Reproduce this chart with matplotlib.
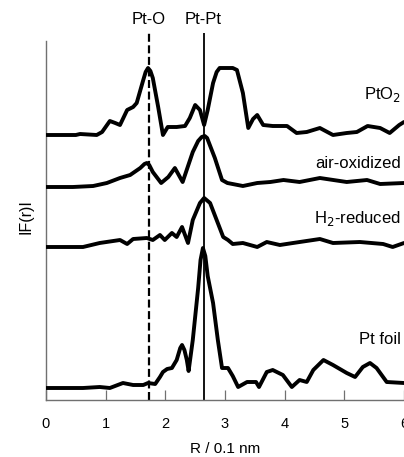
import matplotlib
matplotlib.use("Agg")
import matplotlib.pyplot as plt

plt.rcParams['font.family'] = ['Liberation Sans', 'DejaVu Sans']

# R values (0.1 nm) and |F(r)| heights (arbitrary units) for each spectrum
pto2_r = [0.0, 0.5, 0.57, 0.85, 0.94, 1.07, 1.16, 1.24, 1.36, 1.46, 1.52, 1.63, 1.67, 1.71,
          1.75, 1.79, 1.88, 1.96, 2.04, 2.19, 2.33, 2.41, 2.50, 2.58, 2.65, 2.71, 2.80, 2.86,
          2.91, 3.03, 3.13, 3.20, 3.30, 3.39, 3.47, 3.54, 3.64, 3.80, 4.04, 4.20, 4.37, 4.59,
          4.81, 5.04, 5.21, 5.39, 5.60, 5.76, 5.92, 6.0]
pto2_f = [0, 0, 1, 0, 3, 14, 12, 10, 25, 28, 32, 55, 63, 67,
          64, 57, 28, 0, 8, 8, 9, 17, 30, 25, 10, 25, 52, 63,
          67, 67, 67, 65, 42, 7, 16, 20, 10, 9, 9, 2, 3, 7,
          0, 2, 3, 9, 7, 2, 10, 13]

air_r = [0.0, 0.45, 0.79, 1.02, 1.24, 1.41, 1.58, 1.65, 1.69, 1.73, 1.79, 1.93, 2.05, 2.16,
         2.29, 2.46, 2.55, 2.61, 2.66, 2.70, 2.83, 2.95, 3.04, 3.30, 3.54, 3.76, 3.98, 4.25,
         4.59, 5.04, 5.38, 5.60, 6.0]
air_f = [0, 0, 1, 4, 9, 12, 19, 23, 24, 22, 15, 4, 10, 19,
         5, 35, 46, 50, 51, 49, 29, 7, 4, 1, 4, 5, 7, 5,
         9, 5, 7, 3, 4]

h2_r = [0.0, 0.62, 0.90, 1.24, 1.36, 1.46, 1.69, 1.79, 1.91, 1.99, 2.11, 2.19, 2.28, 2.38,
        2.46, 2.58, 2.65, 2.75, 2.86, 2.97, 3.05, 3.13, 3.30, 3.54, 3.70, 3.92, 4.14, 4.59,
        4.81, 5.26, 5.65, 5.81, 6.0]
h2_f = [0, 0, 4, 7, 3, 8, 9, 7, 12, 7, 14, 10, 20, 4,
        27, 44, 49, 44, 27, 10, 7, 3, 4, 0, 5, 2, 4, 8,
        4, 5, 3, 0, 4]

foil_r = [0.0, 0.62, 0.90, 1.07, 1.29, 1.46, 1.63, 1.71, 1.83, 1.91, 1.96, 2.03, 2.11, 2.19,
          2.25, 2.28, 2.32, 2.36, 2.39, 2.46, 2.55, 2.59, 2.63, 2.67, 2.71, 2.80, 2.88, 2.95,
          3.05, 3.13, 3.22, 3.37, 3.52, 3.57, 3.70, 3.80, 3.97, 4.12, 4.25, 4.37, 4.48, 4.65,
          4.81, 5.04, 5.18, 5.31, 5.43, 5.54, 5.71, 6.0]
foil_f = [0, 0, 1, 0, 5, 3, 3, 5, 4, 11, 16, 19, 20, 28,
          40, 43, 38, 28, 17, 48, 100, 128, 140, 132, 112, 85, 48, 20,
          20, 12, 1, 6, 6, 1, 16, 18, 13, 1, 8, 6, 18, 28,
          23, 15, 11, 21, 25, 20, 6, 5]

series_labels = ["PtO$_2$", "air-oxidized", "H$_2$-reduced", "Pt foil"]
series_offsets = [265, 213, 153, 12]
label_y = [305, 236, 182, 61]

ref_r = [1.72, 2.64]
ref_labels = ["Pt-O", "Pt-Pt"]
x_ticks = [0, 1, 2, 3, 4, 5, 6]

fig = plt.figure(figsize=(4.04, 4.57), dpi=100)
ax = fig.add_axes([46/404, 57/457, 358/404, 367/457])

series = [(pto2_r, pto2_f), (air_r, air_f), (h2_r, h2_f), (foil_r, foil_f)]
for (r, f), off in zip(series, series_offsets):
    ax.plot(r, [v + off for v in f], color='black', lw=2.8,
            solid_joinstyle='round', solid_capstyle='round', zorder=3)

ax.axvline(ref_r[0], color='black', lw=1.6, dashes=(3.6, 1.6), zorder=2)
ax.axvline(ref_r[1], color='black', lw=1.3, zorder=2)
for xr, lab in zip(ref_r, ref_labels):
    ax.text(xr, 380, lab, ha='center', va='center', fontsize=12, clip_on=False)

for lab, ly in zip(series_labels, label_y):
    ax.text(5.95, ly, lab, ha='right', va='center', fontsize=12)

ax.set_xlim(0, 6)
ax.set_ylim(0, 367)
ax.set_xticks(x_ticks)
ax.set_xticklabels([str(t) for t in x_ticks], fontsize=10.5)
ax.set_yticks([])
ax.spines['top'].set_visible(False)
ax.spines['right'].set_visible(False)
ax.spines['left'].set_bounds(0, 359)
for s in ('left', 'bottom'):
    ax.spines[s].set_color('#707070')
    ax.spines[s].set_linewidth(1.0)
ax.tick_params(axis='x', direction='in', length=7, width=0.9, color='#707070', pad=12)
ax.set_xlabel("R / 0.1 nm", fontsize=11, labelpad=8)
ax.set_ylabel("IF(r)I", fontsize=11.5, labelpad=9)

fig.savefig("out.png", dpi=100)
